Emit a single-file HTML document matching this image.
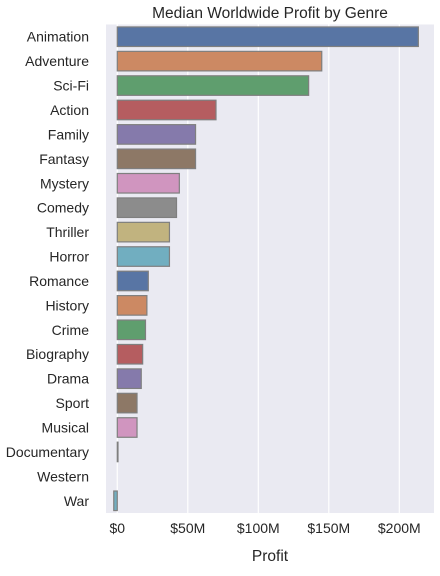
<!DOCTYPE html>
<html><head><meta charset="utf-8"><style>
body{margin:0;background:#fff;font-family:"Liberation Sans",Arial,sans-serif;}
svg text{font-family:"Liberation Sans",Arial,sans-serif;fill:#262626;}
</style></head><body>
<svg id="chart" width="440" height="571"></svg>
<script>
const categories=["Animation","Adventure","Sci-Fi","Action","Family","Fantasy","Mystery","Comedy","Thriller","Horror","Romance","History","Crime","Biography","Drama","Sport","Musical","Documentary","Western","War"];
const profits=[213.5,145,135.7,70,55.5,55.5,44,42,37,37,22,21,20,18,17,14,14,0.5,0,-2.5];
const tickValues=[0,50,100,150,200];
const tickLabels=["$0","$50M","$100M","$150M","$200M"];
const colors=["#5875a4","#cc8963","#5f9e6e","#b55d60","#857aab","#8d7866","#d095bf","#8c8c8c","#c1b37f","#71aec0"];
const svg=document.getElementById('chart');
const NS="http://www.w3.org/2000/svg";
const L=106,R=434,T=24.5,B=513,xmin=-8,xmax=224.6;
const x=v=>L+(v-xmin)/(xmax-xmin)*(R-L);
const band=(B-T)/categories.length;
const y=i=>T+i*band;
function mk(tag,attrs,parent){const e=document.createElementNS(NS,tag);for(const k in attrs)e.setAttribute(k,attrs[k]);(parent||svg).appendChild(e);return e;}
const bg=mk('rect',{x:L,y:T,width:R-L,height:B-T,fill:'#eaeaf2'});


tickValues.forEach((v,i)=>{
  const g=mk('line',{x1:x(v),x2:x(v),y1:T,y2:B,stroke:'#fff','stroke-width':1.2});
  
  
  const t=mk('text',{x:x(v),y:533,'text-anchor':'middle','font-size':14});
  t.textContent=tickLabels[i];
  
  
});
categories.forEach((c,i)=>{
  const v=profits[i];
  const x0=Math.min(x(0),x(v)),w=Math.abs(x(v)-x(0));
  const r=mk('rect',{x:x0,y:y(i)+band*0.1,width:Math.max(w,0.01),height:band*0.8,fill:colors[i%colors.length],stroke:w>0?'#7f7f7f':'none','stroke-width':1.2});
  
  
  const t=mk('text',{x:89,y:y(i)+band/2+5,'text-anchor':'end','font-size':14});
  t.textContent=c;
  
  
});
const title=mk('text',{x:(L+R)/2,y:18,'text-anchor':'middle','font-size':15.5});
title.textContent="Median Worldwide Profit by Genre";


const xl=mk('text',{x:(L+R)/2,y:561,'text-anchor':'middle','font-size':15.5});
xl.textContent="Profit";


</script>
</body></html>
